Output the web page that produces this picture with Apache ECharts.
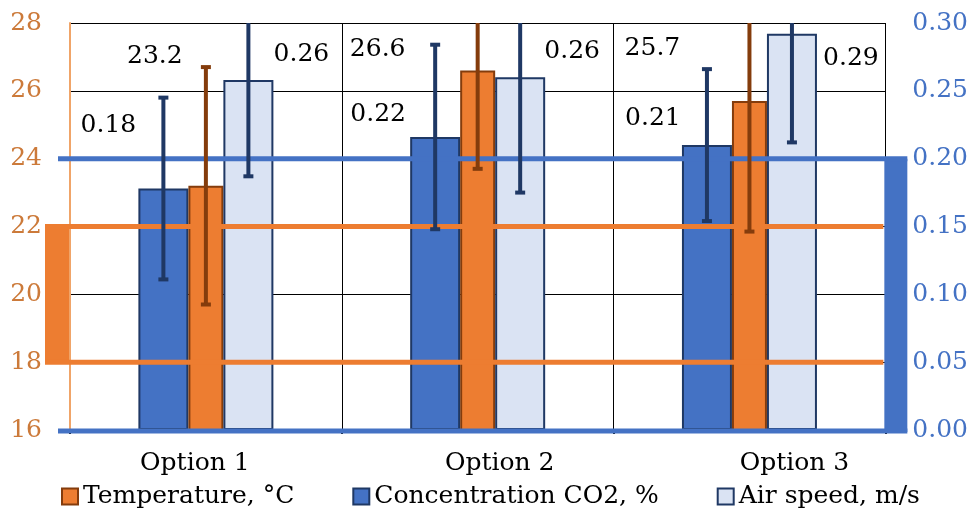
<!DOCTYPE html>
<html><head><meta charset="utf-8">
<script src="https://cdn.jsdelivr.net/npm/echarts@6/dist/echarts.min.js"></script>
<style>html,body{margin:0;padding:0;background:#fff}#c{width:971px;height:510px}</style>
</head><body><div id="c"></div>
<script>
// ---- data ----
const categories = ['Option 1', 'Option 2', 'Option 3'];
const temperature = [23.2, 26.6, 25.7];
const temperatureErr = [3.5, 2.9, 3.85];
const co2 = [0.178, 0.216, 0.21];
const co2Err = [0.067, 0.068, 0.056];
const airSpeed = [0.258, 0.26, 0.292];
const airSpeedErr = [0.071, 0.085, 0.08];
const tempComfort = [18, 22];
const airLimit = [0, 0.2];
const leftTicks = [16, 28, 2];
const rightTicks = [0, 0.3, 0.05];

// ---- styles ----
const FONT = 'DejaVu Serif';
const FS = 25;
const BLUE = '#4472C4', ORANGE = '#ED7D31', LIGHT = '#DAE3F3';
const NAVY = '#1F3864', BROWN = '#843C0C';
const W_CO2 = 50, W_T = 35, W_AIR = 50;
const OFF_CO2 = -(W_CO2 + W_T + W_AIR) / 2 + W_CO2 / 2;
const OFF_T = -(W_CO2 + W_T + W_AIR) / 2 + W_CO2 + W_T / 2;
const OFF_AIR = (W_CO2 + W_T + W_AIR) / 2 - W_AIR / 2;
const co2LabelOff = [[-55, -50], [-57, -9], [-54, -14]];
const tLabelOff = [[-51, -116], [-100, -8], [-97, -40]];
const airLabelOff = [[53, -12], [52, -13], [59, 38]];
const catShift = [-11, 22, 45];

function withLabels(vals, offs) {
  return vals.map((v, i) => ({
    value: v,
    label: { offset: offs[i] }
  }));
}
function errData(vals, errs) {
  return vals.map((v, i) => [i, v - errs[i], v + errs[i]]);
}
function errRender(offset, color) {
  return function (params, api) {
    const i = api.value(0);
    const lo = api.coord([i, api.value(1)]);
    const hi = api.coord([i, api.value(2)]);
    const x = lo[0] + offset;
    const st = { stroke: color, lineWidth: 4 };
    return {
      type: 'group',
      children: [
        { type: 'line', shape: { x1: x, y1: lo[1], x2: x, y2: hi[1] }, style: st },
        { type: 'line', shape: { x1: x - 5, y1: lo[1], x2: x + 5, y2: lo[1] }, style: st },
        { type: 'line', shape: { x1: x - 5, y1: hi[1], x2: x + 5, y2: hi[1] }, style: st }
      ]
    };
  };
}
const labelBase = {
  show: true, position: 'top', distance: 0, color: '#000',
  fontFamily: FONT, fontSize: FS, lineHeight: 26
};

const rich = {};
catShift.forEach((s, i) => {
  rich['c' + i] = {
    fontFamily: FONT, fontSize: FS, color: '#000',
    padding: s < 0 ? [0, -2 * s, 0, 0] : [0, 0, 0, 2 * s]
  };
});

const chart = echarts.init(document.getElementById('c'));
chart.setOption({
  animation: false,
  grid: { left: 70, right: 83, top: 23, bottom: 80, containLabel: false },
  legend: {
    data: ['Temperature, °C', 'Concentration CO2, %', 'Air speed, m/s'],
    left: 56, top: 479, itemGap: 58, itemWidth: 16, itemHeight: 16,
    icon: 'rect',
    textStyle: { fontFamily: FONT, fontSize: FS, color: '#000' }
  },
  xAxis: {
    type: 'category', data: categories,
    axisLine: { show: false },
    axisTick: { show: true, length: 4, lineStyle: { color: '#000', width: 2 } },
    splitLine: { show: true, lineStyle: { color: '#000', width: 1 } },
    axisLabel: {
      margin: 21,
      formatter: (v, i) => '{c' + i + '|' + v + '}',
      rich: rich
    }
  },
  yAxis: [
    {
      type: 'value', min: leftTicks[0], max: leftTicks[1], interval: leftTicks[2],
      axisLine: { show: true, lineStyle: { color: '#F0A468', width: 2 } },
      axisTick: { show: false },
      splitLine: { show: true, lineStyle: { color: '#000', width: 1 } },
      axisLabel: { color: '#CC7A3A', fontFamily: FONT, fontSize: FS, margin: 28 }
    },
    {
      type: 'value', min: rightTicks[0], max: rightTicks[1], interval: rightTicks[2],
      axisLine: { show: false }, axisTick: { show: false },
      splitLine: { show: false },
      axisLabel: { color: BLUE, fontFamily: FONT, fontSize: FS, margin: 27,
        formatter: v => v.toFixed(2) }
    }
  ],
  series: [
    {
      name: 'Concentration CO2, %', type: 'bar', yAxisIndex: 1,
      barWidth: W_CO2, barGap: '0%', z: 2,
      data: withLabels(co2, co2LabelOff),
      itemStyle: { color: BLUE, borderColor: NAVY, borderWidth: 2 },
      label: Object.assign({}, labelBase, { formatter: p => p.value.toFixed(2) })
    },
    {
      name: 'Temperature, °C', type: 'bar', yAxisIndex: 0,
      barWidth: W_T, barGap: '0%', z: 2,
      data: withLabels(temperature, tLabelOff),
      itemStyle: { color: ORANGE, borderColor: BROWN, borderWidth: 2 },
      label: Object.assign({}, labelBase, { formatter: p => p.value.toFixed(1) })
    },
    {
      name: 'Air speed, m/s', type: 'bar', yAxisIndex: 1,
      barWidth: W_AIR, barGap: '0%', z: 2,
      data: withLabels(airSpeed, airLabelOff),
      itemStyle: { color: LIGHT, borderColor: NAVY, borderWidth: 2 },
      label: Object.assign({}, labelBase, { formatter: p => p.value.toFixed(2) })
    },
    {
      type: 'custom', yAxisIndex: 0, z: 3, silent: true, clip: false,
      data: [[0, tempComfort[0], tempComfort[1]]],
      encode: { x: 0, y: [1, 2] },
      renderItem: function (params, api) {
        const cs = params.coordSys;
        const yLo = api.coord([0, api.value(1)])[1];
        const yHi = api.coord([0, api.value(2)])[1];
        const x0 = cs.x - 25, x1 = cs.x + cs.width - 2;
        const st = { stroke: ORANGE, lineWidth: 5 };
        return { type: 'group', children: [
          { type: 'rect', shape: { x: x0, y: yHi, width: 24, height: yLo - yHi }, style: { fill: ORANGE } },
          { type: 'line', shape: { x1: x0, y1: yLo, x2: x1, y2: yLo }, style: st },
          { type: 'line', shape: { x1: x0, y1: yHi, x2: x1, y2: yHi }, style: st }
        ] };
      }
    },
    {
      type: 'custom', yAxisIndex: 1, z: 3, silent: true, clip: false,
      data: [[0, airLimit[0], airLimit[1]]],
      encode: { x: 0, y: [1, 2] },
      renderItem: function (params, api) {
        const cs = params.coordSys;
        const yLo = api.coord([0, api.value(1)])[1];
        const yHi = api.coord([0, api.value(2)])[1];
        const x0 = cs.x - 12, x1 = cs.x + cs.width + 22;
        const st = { stroke: BLUE, lineWidth: 5 };
        return { type: 'group', children: [
          { type: 'rect', shape: { x: cs.x + cs.width - 1, y: yHi, width: 23, height: yLo - yHi + 2 }, style: { fill: BLUE } },
          { type: 'line', shape: { x1: x0, y1: yLo + 1, x2: x1, y2: yLo + 1 }, style: st },
          { type: 'line', shape: { x1: x0, y1: yHi, x2: x1, y2: yHi }, style: st }
        ] };
      }
    },
    {
      type: 'custom', yAxisIndex: 1, z: 4, silent: true, clip: true,
      data: errData(co2, co2Err), encode: { x: 0, y: [1, 2] },
      renderItem: errRender(OFF_CO2, NAVY)
    },
    {
      type: 'custom', yAxisIndex: 0, z: 4, silent: true, clip: true,
      data: errData(temperature, temperatureErr), encode: { x: 0, y: [1, 2] },
      renderItem: errRender(OFF_T, BROWN)
    },
    {
      type: 'custom', yAxisIndex: 1, z: 4, silent: true, clip: true,
      data: errData(airSpeed, airSpeedErr), encode: { x: 0, y: [1, 2] },
      renderItem: errRender(OFF_AIR, NAVY)
    }
  ]
});
</script>
</body></html>
